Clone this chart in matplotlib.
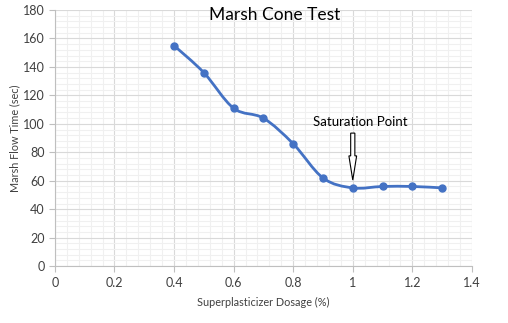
import numpy as np
import matplotlib
matplotlib.use('Agg')
import matplotlib.pyplot as plt
from matplotlib.path import Path
from matplotlib.patches import PathPatch, FancyArrow

plt.rcParams['font.family'] = ['Lato', 'DejaVu Sans']

dosage = [0.4, 0.5, 0.6, 0.7, 0.8, 0.9, 1.0, 1.1, 1.2, 1.3]
flow_time = [155, 136, 111, 104, 86, 62, 55, 56, 56, 55]
x_ticks = [0, 0.2, 0.4, 0.6, 0.8, 1, 1.2, 1.4]
x_labels = ['0', '0.2', '0.4', '0.6', '0.8', '1', '1.2', '1.4']
y_ticks = list(range(0, 181, 20))

blue = '#4472C4'


def smooth_path(xs, ys, t=1/6):
    # excel-like smoothed line: bezier through the data points
    xs = np.asarray(xs, float)
    ys = np.asarray(ys, float)
    n = len(xs)
    verts = [(xs[0], ys[0])]
    codes = [Path.MOVETO]
    for i in range(n - 1):
        p0 = np.array([xs[max(i - 1, 0)], ys[max(i - 1, 0)]])
        p1 = np.array([xs[i], ys[i]])
        p2 = np.array([xs[i + 1], ys[i + 1]])
        p3 = np.array([xs[min(i + 2, n - 1)], ys[min(i + 2, n - 1)]])
        c1 = p1 + (p2 - p0) * t
        c2 = p2 - (p3 - p1) * t
        verts += [tuple(c1), tuple(c2), tuple(p2)]
        codes += [Path.CURVE4] * 3
    return Path(verts, codes)


fig = plt.figure(figsize=(5.08, 3.23), dpi=100)
ax = fig.add_axes([0.108, 0.176, 0.821, 0.793])

ax.add_patch(PathPatch(smooth_path(dosage, flow_time), fill=False,
                       edgecolor=blue, lw=2, zorder=3))
ax.plot(dosage, flow_time, 'o', color=blue, ms=5, zorder=4)

ax.set_xlim(0, 1.4)
ax.set_ylim(0, 180)
ax.set_xticks(x_ticks)
ax.set_xticklabels(x_labels)
ax.set_yticks(y_ticks)
ax.set_xticks(np.arange(0, 1.41, 0.04), minor=True)
ax.set_yticks(np.arange(0, 181, 4), minor=True)
ax.grid(which='minor', color='#f0f0f0', lw=0.8)
ax.grid(which='major', color='#d9d9d9', lw=0.8)
ax.set_axisbelow(True)
for s in ['top', 'right']:
    ax.spines[s].set_visible(False)
for s in ['left', 'bottom']:
    ax.spines[s].set_color('#bfbfbf')
ax.tick_params(which='major', length=4, color='#bfbfbf', labelsize=9,
               labelcolor='#404040')
ax.tick_params(which='minor', length=0)

ax.set_xlabel('Superplasticizer Dosage (%)', fontsize=7.8, color='#404040')
ax.set_ylabel('Marsh Flow Time (sec)', fontsize=7.8, color='#404040')
ax.xaxis.set_label_coords(0.5, -0.12)
ax.yaxis.set_label_coords(-0.082, 0.5)

fig.text(0.541, 0.953, 'Marsh Cone Test', fontsize=12.5, ha='center', va='center')

ax.text(1.025, 101, 'Saturation Point', fontsize=9.5, ha='center', va='center')
ax.add_patch(FancyArrow(1.0, 93.5, 0, -33, width=0.014, head_width=0.026,
                        head_length=17, length_includes_head=True,
                        facecolor='white', edgecolor='black', lw=0.8, zorder=5))

fig.savefig('out.png', dpi=100)
